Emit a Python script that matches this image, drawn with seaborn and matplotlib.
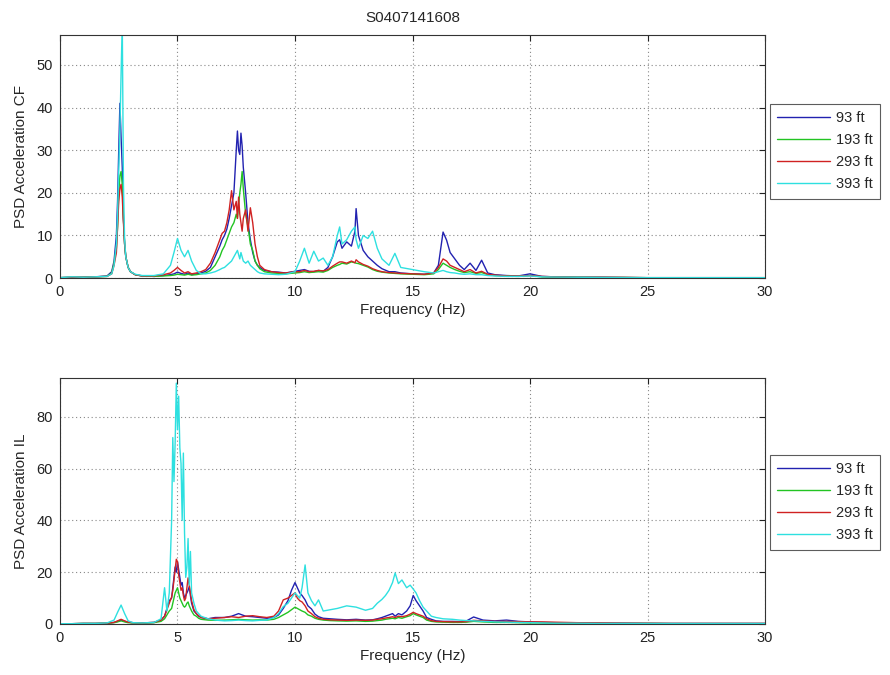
import numpy as np
import pandas as pd
import matplotlib
matplotlib.use("Agg")
import matplotlib.pyplot as plt
import seaborn as sns

# ---- Cross-flow (CF) PSD --------------------------------------------------
f_cf = [
    0.0, 0.5, 1.0, 1.5, 2.0, 2.2, 2.3, 2.4, 2.45, 2.5,
    2.55, 2.6, 2.65, 2.7, 2.75, 2.8, 2.9, 3.0, 3.2, 3.5,
    4.0, 4.4, 4.7, 4.85, 5.0, 5.15, 5.3, 5.45, 5.6, 5.8,
    6.0, 6.2, 6.4, 6.6, 6.8, 6.9, 7.0, 7.1, 7.2, 7.3,
    7.4, 7.5, 7.55, 7.6, 7.65, 7.7, 7.75, 7.8, 7.9, 8.0,
    8.1, 8.2, 8.3, 8.4, 8.5, 8.7, 9.0, 9.3, 9.6, 10.0,
    10.2, 10.4, 10.6, 10.8, 11.0, 11.2, 11.4, 11.6, 11.8, 11.9,
    12.0, 12.2, 12.4, 12.55, 12.6, 12.7, 12.9, 13.1, 13.3, 13.5,
    13.7, 14.0, 14.25, 14.5, 15.0, 15.5, 15.9, 16.1, 16.3, 16.45,
    16.6, 16.8, 17.0, 17.2, 17.45, 17.7, 17.94, 18.2, 18.5, 19.0,
    19.5, 20.0, 20.5, 21.0, 22.0, 23.0, 24.0, 25.0, 26.0, 27.0, 28.0, 29.0, 30.0,
]
cf_93 = [
    0.1, 0.2, 0.2, 0.3, 0.5, 1.5, 4.0, 10.0, 18.0, 30.0,
    41.0, 33.0, 26.0, 14.0, 8.0, 5.0, 2.5, 1.5, 0.8, 0.5,
    0.4, 0.6, 0.8, 1.0, 1.4, 1.1, 0.9, 1.2, 0.8, 1.0,
    1.2, 1.6, 2.5, 5.0, 7.5, 9.0, 10.0, 11.5, 14.0, 17.0,
    20.0, 30.0, 34.5, 30.0, 29.0, 34.0, 31.0, 26.0, 20.0, 13.0,
    9.0, 6.0, 4.0, 3.0, 2.5, 1.8, 1.5, 1.4, 1.2, 1.6,
    1.8, 2.0, 1.6, 1.5, 1.8, 1.6, 2.5, 5.0, 8.5, 9.0,
    7.0, 8.5, 7.5, 11.0, 16.3, 10.0, 6.5, 5.0, 4.0, 3.0,
    2.2, 1.5, 1.5, 1.2, 1.0, 0.9, 1.2, 3.0, 10.8, 8.9,
    6.0, 4.5, 3.0, 2.0, 3.5, 1.8, 4.2, 1.2, 0.8, 0.6,
    0.5, 1.0, 0.4, 0.3, 0.2, 0.2, 0.15, 0.1, 0.1, 0.1, 0.1, 0.1, 0.1,
]
cf_193 = [
    0.1, 0.2, 0.2, 0.3, 0.4, 1.2, 3.5, 7.0, 12.0, 20.0,
    24.0, 25.0, 22.0, 14.0, 8.0, 5.0, 2.5, 1.5, 0.8, 0.5,
    0.4, 0.5, 0.6, 0.7, 0.9, 0.8, 0.7, 0.9, 0.7, 0.8,
    1.0, 1.2, 1.8, 3.0, 5.0, 6.5, 7.5, 9.0, 10.5, 12.0,
    13.0, 15.0, 14.0, 17.0, 20.0, 22.0, 25.0, 21.0, 15.0, 12.0,
    8.0, 6.5, 4.0, 3.0, 2.2, 1.5, 1.2, 1.1, 1.0, 1.2,
    1.3, 1.5, 1.3, 1.4, 1.5, 1.4, 1.8, 2.5, 3.0, 3.2,
    3.5, 3.3, 3.8, 3.6, 3.5, 3.4, 3.0, 2.6, 2.0, 1.6,
    1.4, 1.2, 1.1, 1.0, 0.9, 0.8, 1.0, 2.0, 3.5, 3.0,
    2.5, 2.0, 1.6, 1.3, 1.5, 1.1, 1.3, 0.8, 0.6, 0.5,
    0.4, 0.6, 0.3, 0.25, 0.2, 0.15, 0.15, 0.1, 0.1, 0.1, 0.1, 0.1, 0.1,
]
cf_293 = [
    0.1, 0.2, 0.2, 0.3, 0.4, 1.0, 3.0, 6.0, 12.0, 18.0,
    21.0, 22.0, 19.0, 13.0, 8.0, 5.0, 2.5, 1.5, 0.8, 0.5,
    0.5, 0.8, 1.2, 1.8, 2.5, 1.8, 1.2, 1.5, 1.0, 1.2,
    1.5, 2.0, 3.5, 6.0, 9.0, 10.5, 11.0, 13.0, 16.0, 20.5,
    16.0, 18.0, 14.0, 19.0, 15.0, 13.0, 11.0, 14.0, 16.0, 11.0,
    16.5, 13.0, 8.0, 5.0, 3.0, 2.0, 1.5, 1.3, 1.2, 1.5,
    1.5, 1.8, 1.5, 1.6, 1.8, 1.7, 2.0, 2.8, 3.5, 3.8,
    3.8, 3.5, 4.0, 3.6, 4.3, 3.8, 3.2, 2.8, 2.2, 1.8,
    1.5, 1.3, 1.2, 1.1, 1.0, 0.9, 1.2, 2.5, 4.5, 4.0,
    3.0, 2.5, 2.0, 1.5, 2.0, 1.2, 1.6, 0.9, 0.7, 0.5,
    0.5, 0.6, 0.4, 0.3, 0.2, 0.2, 0.15, 0.1, 0.1, 0.1, 0.1, 0.1, 0.1,
]
cf_393 = [
    0.1, 0.3, 0.2, 0.3, 0.4, 1.0, 3.0, 8.0, 15.0, 25.0,
    35.0, 48.0, 60.0, 22.0, 9.0, 5.0, 2.5, 1.5, 0.9, 0.6,
    0.6, 1.0, 3.0, 6.0, 9.3, 6.5, 5.0, 6.5, 4.0, 1.8,
    1.0, 1.0, 1.2, 1.5, 2.0, 2.3, 2.5, 3.0, 3.5, 4.0,
    5.0, 6.0, 6.5, 5.5, 4.5, 6.0, 5.0, 4.0, 3.5, 4.0,
    3.0, 2.5, 2.0, 1.5, 1.2, 1.0, 0.9, 0.8, 0.9, 1.5,
    4.0, 7.0, 3.5, 6.3, 4.0, 4.7, 3.0, 5.0, 10.0, 12.0,
    8.0, 9.0, 11.0, 12.0, 9.0, 7.0, 10.0, 9.3, 11.0, 7.0,
    4.5, 3.0, 5.8, 2.5, 2.0, 1.5, 1.2, 1.5, 1.8, 1.5,
    1.3, 1.2, 1.0, 0.9, 1.0, 0.8, 0.8, 0.6, 0.5, 0.4,
    0.4, 0.5, 0.3, 0.25, 0.2, 0.15, 0.1, 0.1, 0.1, 0.1, 0.1, 0.1, 0.1,
]

# ---- In-line (IL) PSD -----------------------------------------------------
f_il = [
    0.0, 0.5, 1.0, 1.5, 2.0, 2.3, 2.45, 2.6, 2.75, 2.9,
    3.1, 3.5, 4.0, 4.3, 4.45, 4.55, 4.65, 4.75, 4.8, 4.85,
    4.9, 4.95, 5.0, 5.05, 5.1, 5.15, 5.2, 5.25, 5.3, 5.35,
    5.4, 5.45, 5.5, 5.55, 5.6, 5.7, 5.8, 5.9, 6.0, 6.3,
    6.6, 7.0, 7.3, 7.6, 7.9, 8.2, 8.5, 8.8, 9.1, 9.3,
    9.5, 9.7, 9.85, 10.0, 10.1, 10.2, 10.3, 10.43, 10.55, 10.7,
    10.85, 11.0, 11.2, 11.5, 11.8, 12.2, 12.6, 13.0, 13.3, 13.5,
    13.7, 13.85, 14.0, 14.15, 14.26, 14.4, 14.55, 14.75, 14.9, 15.03,
    15.15, 15.3, 15.45, 15.6, 15.8, 16.0, 16.3, 16.7, 17.0, 17.3,
    17.6, 18.0, 18.5, 19.0, 19.5, 20.0, 20.5, 21.0, 22.0, 23.0,
    24.0, 25.0, 26.0, 27.0, 28.0, 29.0, 30.0,
]
il_93 = [
    0.1, 0.1, 0.2, 0.2, 0.3, 0.6, 1.0, 1.5, 1.0, 0.7,
    0.5, 0.4, 0.6, 1.5, 3.0, 6.0, 9.0, 10.0, 14.0, 18.0,
    22.0, 20.0, 24.0, 21.0, 18.0, 15.0, 16.0, 12.0, 10.0, 11.0,
    12.0, 13.0, 14.4, 11.0, 8.0, 5.0, 4.0, 3.0, 2.5, 2.0,
    2.5, 2.5, 3.0, 4.0, 3.0, 2.8, 2.5, 2.2, 2.5, 3.5,
    6.0, 9.0, 13.0, 16.0, 14.0, 12.0, 11.0, 9.3, 7.0, 5.8,
    3.8, 2.8, 2.2, 2.0, 1.8, 1.6, 1.8, 1.5, 1.6, 2.0,
    2.5, 3.0, 3.5, 4.0, 3.0, 4.0, 3.5, 5.0, 7.0, 11.0,
    9.0, 7.0, 5.0, 2.5, 1.8, 1.2, 1.0, 1.0, 0.9, 1.2,
    2.7, 1.5, 1.2, 1.5, 1.0, 0.8, 0.6, 0.5, 0.4, 0.3,
    0.3, 0.2, 0.2, 0.2, 0.2, 0.2, 0.2,
]
il_193 = [
    0.1, 0.1, 0.2, 0.2, 0.3, 0.5, 0.8, 1.2, 0.8, 0.5,
    0.4, 0.3, 0.5, 1.0, 2.0, 3.5, 5.0, 6.0, 8.0, 10.0,
    12.0, 13.0, 14.0, 12.0, 10.0, 9.0, 8.0, 7.0, 6.5, 7.0,
    8.0, 8.5, 7.0, 6.0, 5.0, 3.5, 3.0, 2.2, 1.8, 1.5,
    1.4, 1.5, 1.6, 1.8, 1.6, 1.5, 1.6, 1.5, 1.8, 2.5,
    3.5, 4.5, 5.5, 6.5, 6.0, 5.5, 5.0, 4.5, 3.5, 3.0,
    2.2, 1.8, 1.5, 1.3, 1.2, 1.1, 1.2, 1.0, 1.1, 1.3,
    1.5, 1.8, 2.0, 2.2, 2.0, 2.5, 2.2, 2.8, 3.2, 4.0,
    3.5, 3.0, 2.5, 1.5, 1.0, 0.8, 0.7, 0.6, 0.6, 0.7,
    1.0, 0.8, 0.6, 0.6, 0.5, 0.4, 0.4, 0.3, 0.3, 0.2,
    0.2, 0.2, 0.15, 0.15, 0.15, 0.15, 0.15,
]
il_293 = [
    0.1, 0.1, 0.2, 0.2, 0.3, 0.6, 1.2, 1.8, 1.2, 0.7,
    0.5, 0.4, 0.6, 1.5, 3.0, 5.5, 8.0, 10.4, 13.0, 17.0,
    21.0, 25.0, 24.0, 19.0, 16.0, 13.0, 14.0, 11.0, 9.0, 10.0,
    14.0, 17.8, 15.0, 12.0, 9.0, 5.5, 4.0, 3.2, 2.5, 2.0,
    2.2, 2.5, 2.8, 2.5, 3.0, 3.2, 2.8, 2.5, 3.0, 5.0,
    9.3, 10.0, 11.0, 12.0, 10.0, 9.0, 8.5, 7.0, 5.0, 4.0,
    2.8, 2.2, 1.8, 1.6, 1.5, 1.4, 1.5, 1.4, 1.5, 1.8,
    2.0, 2.3, 2.5, 2.8, 2.5, 3.0, 2.8, 3.2, 3.8, 4.5,
    4.0, 3.5, 3.0, 2.0, 1.3, 1.0, 0.9, 0.8, 0.8, 0.9,
    1.4, 1.2, 1.0, 1.0, 0.9, 0.8, 0.8, 0.7, 0.5, 0.4,
    0.3, 0.3, 0.2, 0.2, 0.2, 0.2, 0.2,
]
il_393 = [
    0.1, 0.1, 0.2, 0.2, 0.4, 1.5, 4.5, 7.3, 4.0, 1.2,
    0.5, 0.4, 0.6, 2.0, 14.0, 5.0, 12.0, 40.0, 72.0, 55.0,
    70.0, 93.0, 75.0, 88.0, 68.0, 62.0, 40.0, 66.0, 35.0, 18.0,
    22.0, 33.0, 15.0, 28.0, 12.0, 8.0, 5.0, 4.0, 3.0, 2.0,
    1.5, 1.2, 1.3, 1.5, 1.3, 1.2, 1.4, 1.5, 2.5, 4.0,
    6.7, 8.0, 10.0, 12.0, 11.0, 10.0, 14.0, 22.8, 12.0, 9.0,
    7.0, 9.3, 5.0, 5.5, 6.0, 7.0, 6.5, 5.3, 6.0, 8.0,
    9.5, 11.0, 13.0, 16.0, 19.7, 15.6, 17.0, 14.0, 15.0, 13.5,
    12.0, 9.0, 6.5, 5.0, 3.0, 2.5, 2.0, 1.8, 1.5, 1.3,
    1.2, 1.0, 0.8, 0.7, 0.6, 0.5, 0.4, 0.3, 0.3, 0.2,
    0.2, 0.2, 0.15, 0.15, 0.15, 0.15, 0.15,
]

depth_labels = ["93 ft", "193 ft", "293 ft", "393 ft"]
line_colors = ["#2222b0", "#22c422", "#d02222", "#2ee0e0"]


def long_frame(freq, series):
    parts = []
    for label, vals in zip(depth_labels, series):
        parts.append(pd.DataFrame({"Frequency": freq, "PSD": vals, "Depth": label}))
    return pd.concat(parts, ignore_index=True)


cf_df = long_frame(f_cf, [cf_93, cf_193, cf_293, cf_393])
il_df = long_frame(f_il, [il_93, il_193, il_293, il_393])

sns.set_style("white")
plt.rcParams["font.family"] = ["Liberation Sans", "DejaVu Sans"]

fig = plt.figure(figsize=(8.9, 6.75), dpi=100)
ax_cf = fig.add_axes([0.0674, 0.588, 0.7922, 0.360])
ax_il = fig.add_axes([0.0674, 0.0756, 0.7922, 0.3644])

palette = dict(zip(depth_labels, line_colors))

panels = [
    (ax_cf, cf_df, "PSD Acceleration CF", 57, [0, 10, 20, 30, 40, 50], 0.716),
    (ax_il, il_df, "PSD Acceleration IL", 95, [0, 20, 40, 60, 80], 0.687),
]

for ax, df, ylabel, ytop, yticks, leg_top in panels:
    sns.lineplot(data=df, x="Frequency", y="PSD", hue="Depth",
                 hue_order=depth_labels, palette=palette, estimator=None,
                 sort=False, linewidth=1.0, ax=ax)
    ax.set_xlim(0, 30)
    ax.set_ylim(0, ytop)
    ax.set_xticks([0, 5, 10, 15, 20, 25, 30])
    ax.set_yticks(yticks)
    ax.grid(True, linestyle=(0, (1, 2.5)), color="#888888", linewidth=0.8)
    ax.set_axisbelow(True)
    ax.tick_params(direction="in", length=4, top=True, right=True,
                   labelsize=10.5, colors="#222222", pad=5)
    for sp in ax.spines.values():
        sp.set_color("#333333")
        sp.set_linewidth(0.8)
    ax.set_xlabel("Frequency (Hz)", fontsize=11, labelpad=3)
    ax.set_ylabel(ylabel, fontsize=11, labelpad=6)
    leg = ax.legend(loc="upper left", bbox_to_anchor=(1.007, leg_top),
                    fontsize=10.5, frameon=True, fancybox=False,
                    handlelength=3.6, labelspacing=0.55, borderpad=0.5,
                    handletextpad=0.4, borderaxespad=0)
    leg.get_frame().set_edgecolor("#333333")
    leg.get_frame().set_linewidth(0.8)
    for h in leg.get_lines():
        h.set_linewidth(1.0)

fig.text(0.4635, 0.973, "S0407141608", ha="center", va="center", fontsize=11)

fig.savefig("out.png", dpi=100)
